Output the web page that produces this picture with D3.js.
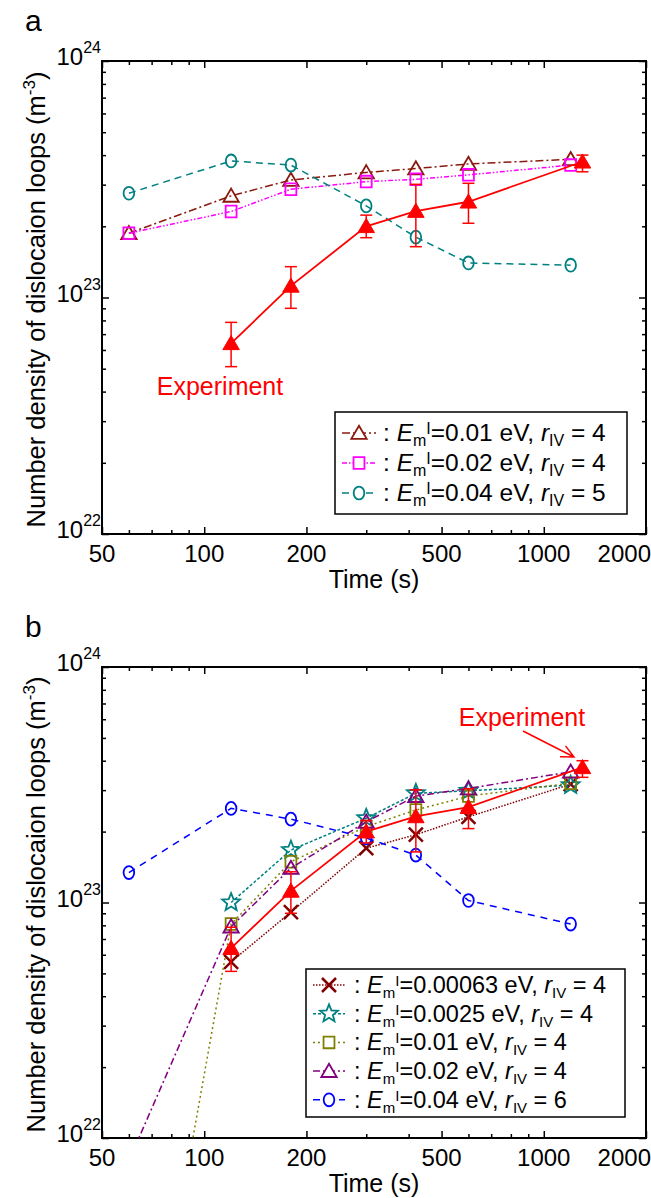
<!DOCTYPE html>
<html>
<head>
<meta charset="utf-8">
<script src="https://cdn.jsdelivr.net/npm/d3@7/dist/d3.min.js"></script>
<style>
  html, body { margin: 0; padding: 0; background: #fff; }
  svg { display: block; font-family: "Liberation Sans", Arial, sans-serif; }
</style>
</head>
<body>
<div id="chart"></div>
<script>
// time points (s)
const simTimes = [60, 120, 180, 300, 420, 600, 1200];
const expTimes = [120, 180, 300, 420, 600, 1300];

// experiment (same in both panels)
const expValue = [6.4e22, 1.12e23, 2.0e23, 2.32e23, 2.54e23, 3.75e23];
const expLow   = [5.1e22, 9.0e22, 1.79e23, 1.64e23, 2.06e23, 3.4e23];
const expHigh  = [7.85e22, 1.35e23, 2.23e23, 3.01e23, 3.04e23, 4.0e23];

// panel a
const aTri  = [1.87e23, 2.69e23, 3.14e23, 3.38e23, 3.51e23, 3.67e23, 3.84e23];
const aSq   = [1.87e23, 2.31e23, 2.87e23, 3.09e23, 3.16e23, 3.30e23, 3.63e23];
const aCirc = [2.76e23, 3.78e23, 3.63e23, 2.44e23, 1.80e23, 1.40e23, 1.37e23];

// panel b
const bCrossTimes = [120, 180, 300, 420, 600, 1200];
const bCross = [5.6e22, 9.1e22, 1.70e23, 1.94e23, 2.31e23, 3.18e23];
const bStar  = [1.0e23, 1.67e23, 2.28e23, 2.91e23, 2.98e23, 3.15e23];
const bSq    = [3.0e20, 8.1e22, 1.49e23, 2.10e23, 2.47e23, 2.83e23, 3.21e23];
const bTri   = [8.0e21, 7.9e22, 1.40e23, 2.20e23, 2.83e23, 3.05e23, 3.59e23];
const bCirc  = [1.34e23, 2.51e23, 2.26e23, 1.88e23, 1.59e23, 1.02e23, 8.1e22];

// axes
const xDomain = [50, 2000];
const yDomain = [1e22, 1e24];
const xMajor = [50, 100, 200, 500, 1000, 2000];
const xMinor = [60, 70, 80, 90, 300, 400, 600, 700, 800, 900];
const yMajor = [1e22, 1e23, 1e24];
const yMinor = [2, 3, 4, 5, 6, 7, 8, 9].flatMap(m => [m * 1e22, m * 1e23]);

const W = 651, H = 1198;
const svg = d3.select("#chart").append("svg")
    .attr("width", W).attr("height", H);

// marker path builders (centered at 0,0)
const markers = {
    tri: s => `M0,${-s * 0.52}L${s * 0.55},${s * 0.42}L${-s * 0.55},${s * 0.42}Z`,
    sq: s => `M${-s * 0.42},${-s * 0.45}h${s * 0.84}v${s * 0.9}h${-s * 0.84}Z`,
    circ: s => {
        const rx = s * 0.38, ry = s * 0.46;
        return `M${-rx},0a${rx},${ry} 0 1,0 ${2 * rx},0a${rx},${ry} 0 1,0 ${-2 * rx},0Z`;
    },
    star: s => {
        let p = "";
        for (let i = 0; i < 10; i++) {
            const r = i % 2 ? s * 0.24 : s * 0.55;
            const a = -Math.PI / 2 + i * Math.PI / 5;
            p += (i ? "L" : "M") + (r * Math.cos(a)).toFixed(2) + "," + (r * Math.sin(a)).toFixed(2);
        }
        return p + "Z";
    },
    cross: s => {
        const h = s * 0.5;
        return `M${-h},${-h}L${h},${h}M${-h},${h}L${h},${-h}`;
    }
};

function drawPanel(p) {
    const x = d3.scaleLog().domain(xDomain).range([102, 646]);
    const y = d3.scaleLog().domain(yDomain).range([p.bottom, p.top]);
    const g = svg.append("g");

    const clipId = "clip-" + p.name;
    svg.append("clipPath").attr("id", clipId)
        .append("rect").attr("x", 102).attr("y", p.top)
        .attr("width", 544).attr("height", p.bottom - p.top);

    // ticks, pointing inwards
    const tickAxis = (axis, tr) => g.append("g").attr("transform", tr).call(axis)
        .call(a => a.select(".domain").remove())
        .call(a => a.selectAll("line").attr("stroke", "#000").attr("stroke-width", 1.5));

    tickAxis(d3.axisBottom(x).tickValues(xMajor).tickSize(-7).tickFormat(""), `translate(0,${p.bottom})`);
    tickAxis(d3.axisBottom(x).tickValues(xMinor).tickSize(-4).tickFormat(""), `translate(0,${p.bottom})`);
    tickAxis(d3.axisTop(x).tickValues(xMajor).tickSize(-7).tickFormat(""), `translate(0,${p.top})`);
    tickAxis(d3.axisTop(x).tickValues(xMinor).tickSize(-4).tickFormat(""), `translate(0,${p.top})`);
    tickAxis(d3.axisLeft(y).tickValues(yMajor).tickSize(-7).tickFormat(""), `translate(102,0)`);
    tickAxis(d3.axisLeft(y).tickValues(yMinor).tickSize(-4).tickFormat(""), `translate(102,0)`);
    tickAxis(d3.axisRight(y).tickValues(yMajor).tickSize(-7).tickFormat(""), `translate(646,0)`);
    tickAxis(d3.axisRight(y).tickValues(yMinor).tickSize(-4).tickFormat(""), `translate(646,0)`);

    // frame
    g.append("rect").attr("x", 102).attr("y", p.top)
        .attr("width", 544).attr("height", p.bottom - p.top)
        .attr("fill", "none").attr("stroke", "#000").attr("stroke-width", 2);

    // x tick labels
    g.append("g").selectAll("text").data(xMajor).join("text")
        .attr("x", d => d === 2000 ? 651 : x(d))
        .attr("y", p.bottom + 28)
        .attr("text-anchor", d => d === 2000 ? "end" : "middle")
        .attr("font-size", 24)
        .text(d => d);

    // y tick labels 10^n
    const yl = g.append("g").selectAll("text").data(yMajor).join("text")
        .attr("x", 101).attr("y", d => y(d) + 4)
        .attr("text-anchor", "end")
        .attr("font-size", 24);
    yl.append("tspan").text("10");
    yl.append("tspan").attr("font-size", 16).attr("dy", -12).text(d => Math.round(Math.log10(d)));

    // axis titles
    g.append("text").attr("x", 374).attr("y", p.bottom + 54)
        .attr("text-anchor", "middle").attr("font-size", 25).text("Time (s)");
    const yt = g.append("text")
        .attr("transform", `translate(45,${(p.top + p.bottom) / 2 + 2}) rotate(-90)`)
        .attr("text-anchor", "middle").attr("font-size", 25.5);
    yt.append("tspan").text("Number density of dislocaion loops (m");
    yt.append("tspan").attr("font-size", 17).attr("dy", -10).text("-3");
    yt.append("tspan").attr("dy", 10).text(")");

    // panel letter
    g.append("text").attr("x", 25).attr("y", p.top - 30)
        .attr("font-size", 30).text(p.name);

    const plot = g.append("g").attr("clip-path", `url(#${clipId})`);
    const line = d3.line().x(d => x(d[0])).y(d => y(d[1]));

    p.series.forEach(s => {
        const pts = s.times.map((t, i) => [t, s.values[i]]);
        plot.append("path").datum(pts)
            .attr("d", line).attr("fill", "none")
            .attr("stroke", s.color).attr("stroke-width", 1.5)
            .attr("stroke-dasharray", s.dash);
        plot.append("g").selectAll("path").data(pts).join("path")
            .attr("transform", d => `translate(${x(d[0])},${y(d[1])})`)
            .attr("d", markers[s.marker](s.size))
            .attr("fill", "none").attr("stroke", s.color).attr("stroke-width", s.sw || 1.8);
    });

    // experiment
    const ePts = expTimes.map((t, i) => [t, expValue[i], expLow[i], expHigh[i]]);
    plot.append("path").datum(ePts).attr("d", line)
        .attr("fill", "none").attr("stroke", "#ff0000").attr("stroke-width", 1.8);
    const eb = plot.append("g").attr("stroke", "#ff0000").attr("stroke-width", 1.5);
    eb.selectAll("line.v").data(ePts).join("line")
        .attr("x1", d => x(d[0])).attr("x2", d => x(d[0]))
        .attr("y1", d => y(d[2])).attr("y2", d => y(d[3]));
    eb.selectAll("line.lo").data(ePts).join("line")
        .attr("x1", d => x(d[0]) - 6).attr("x2", d => x(d[0]) + 6)
        .attr("y1", d => y(d[2])).attr("y2", d => y(d[2]));
    eb.selectAll("line.hi").data(ePts).join("line")
        .attr("x1", d => x(d[0]) - 6).attr("x2", d => x(d[0]) + 6)
        .attr("y1", d => y(d[3])).attr("y2", d => y(d[3]));
    plot.append("g").selectAll("path").data(ePts).join("path")
        .attr("transform", d => `translate(${x(d[0])},${y(d[1])})`)
        .attr("d", markers.tri(15)).attr("fill", "#ff0000").attr("stroke", "#ff0000");

    // experiment label
    g.append("text").attr("x", p.expLabel[0]).attr("y", p.expLabel[1])
        .attr("text-anchor", "middle").attr("font-size", 25)
        .attr("fill", "#ff0000").text("Experiment");
    if (p.arrow) {
        const [x1, y1, x2, y2] = p.arrow;
        const ang = Math.atan2(y2 - y1, x2 - x1);
        const hl = 14, ha = 0.45;
        g.append("path")
            .attr("d", `M${x1},${y1}L${x2},${y2}` +
                `M${x2 - hl * Math.cos(ang - ha)},${y2 - hl * Math.sin(ang - ha)}L${x2},${y2}` +
                `L${x2 - hl * Math.cos(ang + ha)},${y2 - hl * Math.sin(ang + ha)}`)
            .attr("fill", "none").attr("stroke", "#ff0000").attr("stroke-width", 1.5);
    }

    // legend
    const L = p.legend;
    g.append("rect").attr("x", L.x).attr("y", L.y).attr("width", L.w).attr("height", L.h)
        .attr("fill", "#fff").attr("stroke", "#000").attr("stroke-width", 1.5);
    p.series.forEach((s, i) => {
        const cy = L.y + L.pad + i * L.row;
        g.append("line").attr("x1", L.x + 7).attr("x2", L.x + 7 + L.sample)
            .attr("y1", cy).attr("y2", cy)
            .attr("stroke", s.color).attr("stroke-width", 1.5).attr("stroke-dasharray", s.dash);
        g.append("path").attr("transform", `translate(${L.x + 7 + L.sample / 2},${cy})`)
            .attr("d", markers[s.marker](s.size))
            .attr("fill", "#fff").attr("stroke", s.color).attr("stroke-width", s.sw || 1.8);
        const t = g.append("text").attr("x", L.x + L.textX).attr("y", cy + 8).attr("font-size", L.fs);
        t.append("tspan").text(": ");
        t.append("tspan").attr("font-style", "italic").text("E");
        t.append("tspan").attr("font-size", L.ss).attr("dy", 5).text("m");
        t.append("tspan").attr("font-size", L.ss).attr("dy", -12).text("I");
        t.append("tspan").attr("dy", 7).text(`=${s.em} eV, `);
        t.append("tspan").attr("font-style", "italic").text("r");
        t.append("tspan").attr("font-size", L.ss).attr("dy", 5).text("IV");
        t.append("tspan").attr("dy", -5).text(` = ${s.r}`);
    });
}

drawPanel({
    name: "a", top: 61, bottom: 534,
    expLabel: [220, 395],
    series: [
        { times: simTimes, values: aTri, color: "#8b1a0e", dash: "8,3,2,3", marker: "tri", size: 14, em: "0.01", r: 4 },
        { times: simTimes, values: aSq, color: "#ff00ff", dash: "5,2,1.5,2,1.5,2", marker: "sq", size: 13, em: "0.02", r: 4 },
        { times: simTimes, values: aCirc, color: "#008080", dash: "7,5", marker: "circ", size: 14, em: "0.04", r: 5 }
    ],
    legend: { x: 335, y: 412, w: 292, h: 102, pad: 21, row: 30, sample: 34, textX: 48, fs: 24.5, ss: 16 }
});

drawPanel({
    name: "b", top: 667, bottom: 1138,
    expLabel: [522, 726],
    arrow: [523, 731, 574, 757],
    series: [
        { times: bCrossTimes, values: bCross, color: "#800000", dash: "1.5,1.5", marker: "cross", size: 14, sw: 2.5, em: "0.00063", r: 4 },
        { times: bCrossTimes, values: bStar, color: "#008080", dash: "3,2", marker: "star", size: 17, em: "0.0025", r: 4 },
        { times: simTimes, values: bSq, color: "#808000", dash: "2,3", marker: "sq", size: 13, em: "0.01", r: 4 },
        { times: simTimes, values: bTri, color: "#800080", dash: "7,3,2,3", marker: "tri", size: 14, em: "0.02", r: 4 },
        { times: simTimes, values: bCirc, color: "#0000ff", dash: "7,6", marker: "circ", size: 14, em: "0.04", r: 6 }
    ],
    legend: { x: 306, y: 969, w: 319, h: 148, pad: 16, row: 28.7, sample: 32, textX: 48, fs: 23.5, ss: 15 }
});
</script>
</body>
</html>
